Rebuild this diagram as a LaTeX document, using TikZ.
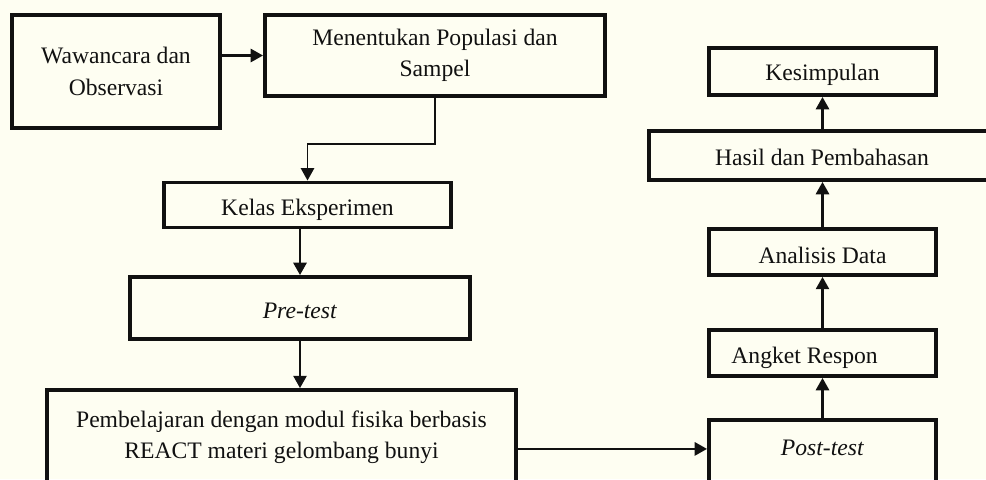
\documentclass[tikz,border=0pt]{standalone}
\usepackage{fontspec}
\setmainfont{Liberation Serif}
\usetikzlibrary{calc, arrows.meta, positioning}
\definecolor{kertas}{HTML}{FEFEF2}
\definecolor{tinta}{HTML}{111111}
\newcommand{\geser}[2]{\raisebox{#1}[\height][\depth]{#2}}

\begin{document}
\begin{tikzpicture}[x=0.529pt, y=-0.529pt,
    kotak/.style={draw=tinta, line width=2.1pt, inner sep=0pt, align=center,
        font=\fontsize{12.5}{16.5}\selectfont, text=tinta},
    panah/.style={-{Triangle[length=6.5pt, width=7pt]}, line width=1.1pt, draw=tinta}]
            % Background
            \fill[kertas] (0,0) rectangle (986,479);
            \useasboundingbox (0,0) rectangle (986,479);
            \clip (0,0) rectangle (986,479);

            % Left column
            \node[kotak, minimum width=110pt, minimum height=59.8pt] (wawancara) at (116,71.5) {Wawancara dan\\Observasi};
            \node[kotak, minimum width=179.9pt, minimum height=42.8pt] (populasi) at (435,55.5) {Menentukan Populasi dan\\Sampel};
            \node[kotak, minimum width=151.8pt, minimum height=23.8pt] (kelas) at (307.5,205) {\geser{-2.6pt}{Kelas Eksperimen}};
            \node[kotak, minimum width=179.9pt, minimum height=32.8pt] (pretest) at (300,308) {\geser{-1.6pt}{\textit{Pre-test}}};
            \node[kotak, minimum width=248.1pt, minimum height=49.7pt] (pembelajaran) at (281.5,437) {Pembelajaran dengan modul fisika berbasis\\REACT materi gelombang bunyi};

            % Right column
            \node[kotak, minimum width=120.1pt, minimum height=42.3pt] (posttest) at (822.5,460) {\geser{6.3pt}{\textit{Post-test}}};
            \node[kotak, minimum width=120.1pt, minimum height=24.3pt] (angket) at (822.5,353) {\geser{-2.6pt}{Angket Respon}\hspace*{19pt}};
            \node[kotak, minimum width=120.1pt, minimum height=24.3pt] (analisis) at (822.5,252) {\geser{-1.6pt}{Analisis Data}};
            \node[kotak, minimum width=183pt, minimum height=25.9pt] (hasil) at (822,155.5) {\geser{-1pt}{Hasil dan Pembahasan}};
            \node[kotak, minimum width=120.1pt, minimum height=24.9pt] (kesimpulan) at (822.5,71.5) {\geser{-2pt}{Kesimpulan}};

            % Arrows
            \draw[panah] (wawancara.east |- populasi.west) -- (populasi.west);
            \draw[panah, line width=0.8pt] (populasi.south) -- ++(0,46) -| (kelas.north);
            \draw[panah] (pretest.north |- kelas.south) -- (pretest.north);
            \draw[panah] (pretest.south) -- (pretest.south |- pembelajaran.north);
            \draw[panah] ([yshift=-6.3pt]pembelajaran.east) -- ([yshift=-6.3pt]pembelajaran.east -| posttest.west);

            \draw[panah] (posttest.north) -- (angket.south);
            \draw[panah] (angket.north) -- (analisis.south);
            \draw[panah] (analisis.north) -- (analisis.north |- hasil.south);
            \draw[panah] (kesimpulan.south |- hasil.north) -- (kesimpulan.south);
        \end{tikzpicture}
\end{document}
